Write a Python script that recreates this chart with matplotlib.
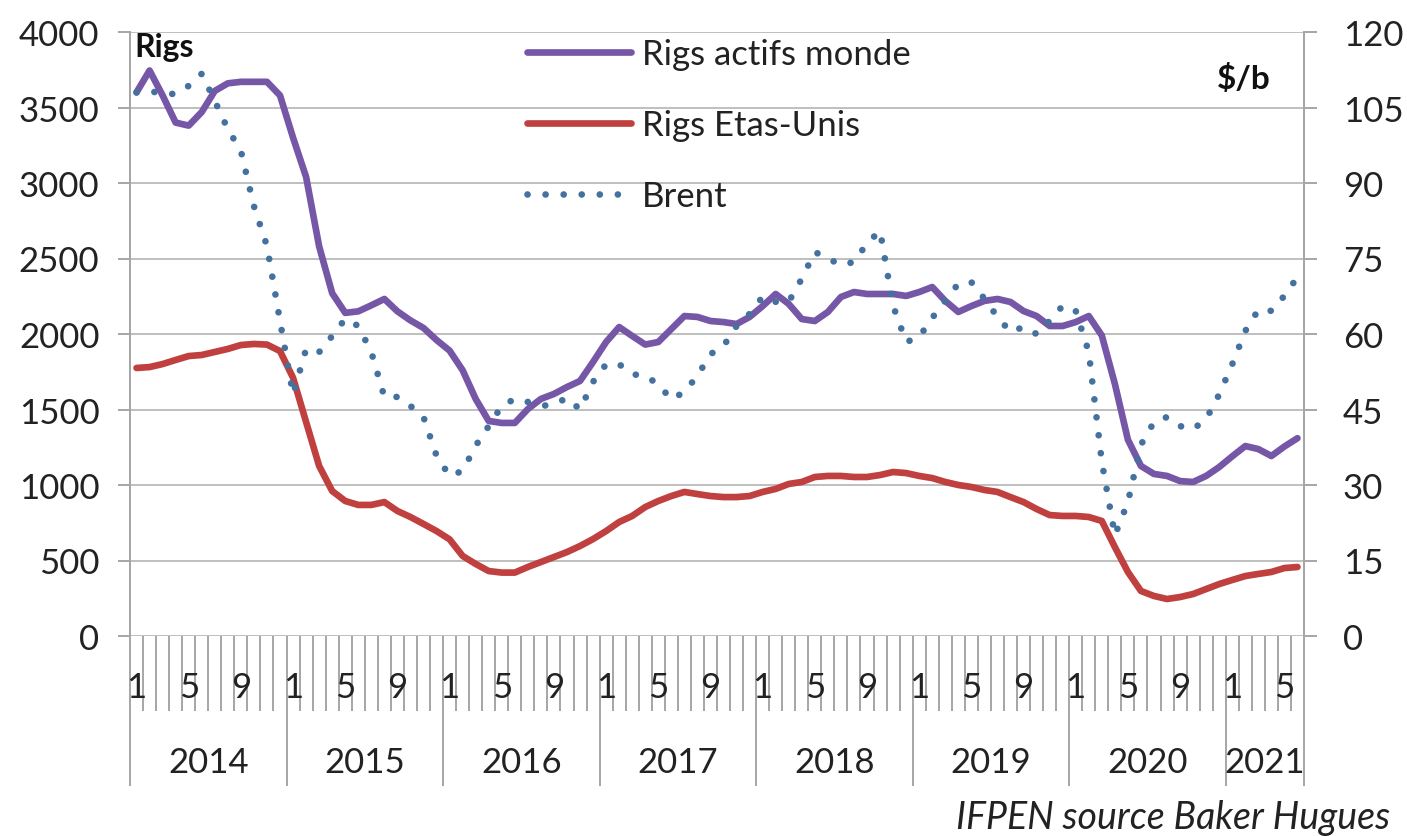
import matplotlib
matplotlib.use("Agg")
import matplotlib.pyplot as plt
import matplotlib.transforms as mtransforms
import numpy as np

plt.rcParams['font.family'] = ['Lato', 'DejaVu Sans']

# monthly data, Jan 2014 -> Jun 2021
years = ['2014', '2015', '2016', '2017', '2018', '2019', '2020', '2021']
months_per_year = [12, 12, 12, 12, 12, 12, 12, 6]
shown_months = [1, 5, 9]

rigs_monde = [
    3600, 3745, 3580, 3400, 3380, 3470, 3610, 3660, 3670, 3670, 3670, 3580,
    3300, 3040, 2580, 2270, 2140, 2150, 2190, 2232, 2150, 2090, 2040, 1960,
    1890, 1760, 1570, 1424, 1411, 1411, 1503, 1570, 1603, 1649, 1689, 1815,
    1947, 2046, 1987, 1930, 1947, 2033, 2119, 2113, 2086, 2079, 2066, 2113,
    2185, 2265, 2199, 2099, 2086, 2146, 2245, 2278, 2265, 2265, 2265, 2252,
    2278, 2311, 2219, 2146, 2185, 2219, 2232, 2212, 2152, 2119, 2053, 2053,
    2079, 2119, 1990, 1670, 1300, 1126, 1073, 1060, 1026, 1020, 1060, 1119,
    1190, 1258, 1238, 1192, 1255, 1310,
]

rigs_us = [
    1775, 1781, 1801, 1828, 1854, 1861, 1881, 1901, 1927, 1934, 1930, 1887,
    1710, 1417, 1126, 960, 894, 868, 868, 887, 828, 788, 742, 695,
    640, 530, 477, 430, 420, 420, 457, 490, 523, 556, 596, 642,
    695, 755, 795, 854, 894, 927, 954, 940, 927, 920, 920, 927,
    954, 974, 1007, 1020, 1053, 1060, 1060, 1053, 1053, 1066, 1086, 1079,
    1060, 1046, 1020, 1000, 987, 967, 954, 920, 887, 841, 801, 795,
    795, 788, 762, 589, 424, 298, 265, 245, 258, 278, 311, 344,
    371, 397, 411, 424, 450, 457,
]

brent = [
    108.0, 108.3, 107.7, 107.7, 109.3, 111.7, 106.3, 100.7, 96.4, 85.4, 77.5, 62.6,
    48.0, 57.0, 56.4, 59.6, 63.0, 61.6, 56.4, 47.5, 47.5, 45.7, 43.5, 35.8,
    31.8, 32.8, 37.8, 41.7, 45.7, 47.1, 46.5, 45.7, 46.0, 47.3, 45.0, 50.5,
    54.0, 54.0, 52.0, 51.7, 50.0, 47.0, 48.5, 51.7, 56.0, 57.6, 61.6, 64.0,
    67.4, 66.4, 66.4, 71.0, 76.3, 75.0, 73.7, 74.3, 78.0, 80.5, 65.6, 58.4,
    59.4, 63.2, 66.6, 70.0, 70.3, 67.0, 63.4, 60.4, 61.4, 60.0, 62.6, 65.6,
    64.6, 56.4, 34.6, 20.0, 26.6, 38.0, 42.5, 43.5, 41.7, 41.1, 43.1, 48.0,
    54.0, 60.6, 64.8, 64.6, 67.6, 71.3,
]

n = len(rigs_monde)
x = np.arange(n) + 0.5

grey = '#a6a6a6'
txt = '#222222'
fs = 25

fig = plt.figure(figsize=(14.07, 8.37), dpi=100)
ax = fig.add_axes([130 / 1407, 1 - 637 / 837, 1174 / 1407, 604 / 837])
ax2 = ax.twinx()

l1, = ax.plot(x, rigs_monde, color='#7656a6', lw=4.8, solid_capstyle='round',
              label='Rigs actifs monde')
l2, = ax.plot(x, rigs_us, color='#c0403f', lw=4.8, solid_capstyle='round',
              label='Rigs Etas-Unis')
l3, = ax2.plot(x, brent, color='#45719f', lw=4.8, linestyle=(0, (0.01, 2.7)),
               dash_capstyle='round', label='Brent')

ax.set_xlim(0, n)
ax.set_ylim(0, 4000)
ax.set_yticks(np.arange(0, 4001, 500))
ax2.set_ylim(0, 120)
ax2.set_yticks(np.arange(0, 121, 15))

ax.yaxis.grid(True, color='#bfbfbf', lw=1.4)
ax.set_axisbelow(True)

for a in (ax, ax2):
    for s in ('top', 'bottom'):
        a.spines[s].set_visible(False)
    a.spines['left'].set_color(grey)
    a.spines['right'].set_color(grey)
    a.spines['left'].set_linewidth(1.4)
    a.spines['right'].set_linewidth(1.4)

ax.tick_params(axis='y', length=9, width=1.4, color=grey, pad=13,
               labelsize=fs, labelcolor=txt)
ax2.tick_params(axis='y', length=9, width=1.4, color=grey, pad=19,
                labelsize=fs, labelcolor=txt)

# two-level category axis: month ticks and year separators
bounds = np.concatenate([[0], np.cumsum(months_per_year)])
ax.set_xticks(bounds)
ax.set_xticks(np.arange(0, n + 1), minor=True)
ax.tick_params(axis='x', which='major', length=108, width=1.4, color=grey,
               labelbottom=False)
ax.tick_params(axis='x', which='minor', length=54, width=1.4, color=grey,
               labelbottom=False)

trans = mtransforms.blended_transform_factory(ax.transData, ax.transAxes)
month_y = -(688 - 637) / 604
year_y = -(763 - 637) / 604
i = 0
for yr, m in zip(years, months_per_year):
    for k in range(m):
        if k + 1 in shown_months:
            ax.text(i + k + 0.5, month_y, str(k + 1), transform=trans,
                    ha='center', va='center', fontsize=fs, color=txt)
    ax.text(i + m / 2, year_y, yr, transform=trans, ha='center', va='center',
            fontsize=fs, color=txt)
    i += m

ax.text(0.004, (637 - 47) / 604, 'Rigs', transform=ax.transAxes, fontsize=23,
        fontweight='bold', color='#111111', ha='left', va='center')
ax.text((1271 - 130) / 1174, (637 - 79) / 604, '$/b', transform=ax.transAxes,
        fontsize=24, fontweight='bold', color='#111111', ha='right', va='center')

fig.legend(handles=[l1, l2, l3], loc='upper left',
           bbox_to_anchor=(527 / 1407, 1 - 39 / 837), frameon=False,
           fontsize=fs, handlelength=3.0, handletextpad=0.3, labelspacing=1.12,
           borderpad=0, borderaxespad=0, labelcolor=txt)

fig.text(1390 / 1407, 1 - 818 / 837, 'IFPEN source Baker Hugues', ha='right',
         va='center', fontsize=27, style='italic', color=txt)

fig.savefig('out.png', dpi=100)
